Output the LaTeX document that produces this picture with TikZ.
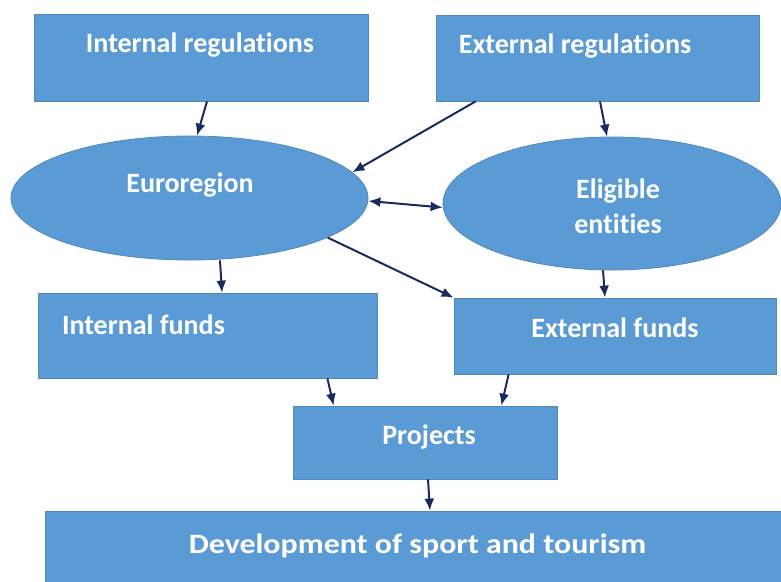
\documentclass[tikz,border=0pt]{standalone}
\usepackage{fontspec}
\setmainfont{Carlito}[Ligatures=NoCommon]
\usepackage{xcolor}
\usetikzlibrary{shapes.geometric, arrows.meta, positioning}

\definecolor{boxblue}{HTML}{5B9BD5}
\definecolor{boxedge}{HTML}{5088BC}
\definecolor{arrownavy}{HTML}{1B2A5E}

\begin{document}
\begin{tikzpicture}[x=1pt, y=-1pt]
    \tikzstyle{block} = [rectangle, draw=boxedge, fill=boxblue, line width=0.8pt, inner sep=0pt]
    \tikzstyle{blob} = [ellipse, draw=boxedge, fill=boxblue, line width=0.8pt, inner sep=0pt]
    \tikzstyle{caption} = [text=white, align=center, font=\fontsize{28}{35}\selectfont\bfseries]
    \tikzstyle{line} = [draw=arrownavy, -{Latex[length=12pt, width=10pt]}, line width=2pt]

    \clip (0,0) rectangle (781,581);

    % top row: the two sets of rules
    \node [block, minimum width=334, minimum height=87,
           label={[caption, xshift=-1, yshift=12.5]center:Internal regulations}] (intreg) at (201,57.5) {};
    \node [block, minimum width=323, minimum height=86,
           label={[caption, xshift=-22.5, yshift=12]center:External regulations}] (extreg) at (597.5,58) {};

    % the two actors
    \node [blob, minimum width=357, minimum height=124,
           label={[caption, xshift=0.5, yshift=13]center:Euroregion}] (euro) at (189.5,198) {};
    \node [blob, minimum width=338, minimum height=133,
           label={[caption, xshift=6, yshift=-2.5]center:Eligible\\entities}] (eligible) at (612,203.5) {};

    % money
    \node [block, minimum width=339, minimum height=85,
           label={[caption, xshift=-64, yshift=10.5]center:Internal funds}] (intfunds) at (207.5,335.5) {};
    \node [block, minimum width=322, minimum height=76,
           label={[caption, yshift=8]center:External funds}] (extfunds) at (615,336) {};

    % outcome
    \node [block, minimum width=264, minimum height=73,
           label={[caption, xshift=4, yshift=5.5]center:Projects}] (projects) at (425,442.5) {};
    \node [block, minimum width=745, minimum height=90,
           label={[caption, yshift=10, xscale=1.14, transform shape]center:Development of sport and tourism}] (devel) at (417.5,556) {};

    \path [line] ([xshift=6pt]intreg.south) -- ([xshift=7.5pt]euro.north);
    \path [line] ([xshift=40pt]extreg.south west) -- (euro.9);
    \path [line] ([xshift=2.5pt]extreg.south) -- ([xshift=-5pt]eligible.north);
    \path [line, {Latex[length=12pt, width=10pt]}-{Latex[length=12pt, width=10pt]}] ([yshift=-3pt]euro.east) -- ([yshift=-4pt]eligible.west);
    \path [line] (euro.-16) -- (extfunds.north west);
    \path [line] ([xshift=30.5pt]euro.south) -- ([xshift=14.5pt]intfunds.north);
    \path [line] ([xshift=-9pt]eligible.south) -- ([xshift=-10pt]extfunds.north);
    \path [line] ([xshift=-50pt]intfunds.south east) -- ([xshift=41pt]projects.north west);
    \path [line] ([xshift=55pt]extfunds.south west) -- ([xshift=-56pt]projects.north east);
    \path [line] ([xshift=3pt]projects.south) -- ([xshift=12.5pt]devel.north);
\end{tikzpicture}
\end{document}
